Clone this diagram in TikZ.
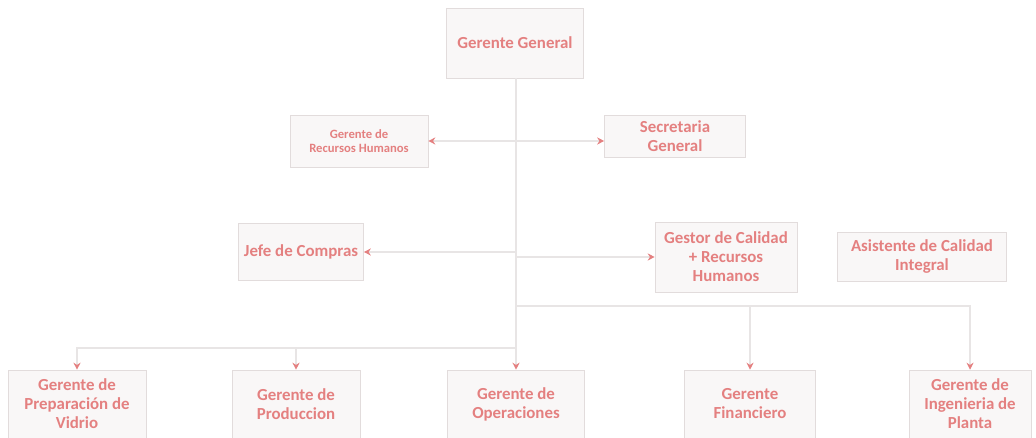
\documentclass[tikz,border=0pt]{standalone}
\usepackage{fontspec}
\setmainfont{Carlito}
\usetikzlibrary{arrows.meta}
\definecolor{rosa}{RGB}{228,128,128}
\definecolor{cajafondo}{RGB}{249,247,247}
\definecolor{cajaborde}{RGB}{226,220,220}
\definecolor{linea}{RGB}{232,229,229}
\tikzset{
  caja/.style={draw=cajaborde,fill=cajafondo,text=rosa,align=center,
    font=\fontsize{12}{13.5}\selectfont\bfseries,inner sep=2pt},
  enlace/.style={draw=linea,line width=0.8pt},
  flecha/.style={enlace,-{Stealth[length=5pt,width=5pt,color=rosa]}}
}
\begin{document}
\begin{tikzpicture}[x=0.025cm,y=-0.025cm]
                \useasboundingbox (0,0) rectangle (1036,438);
                % jerarquia
                \node[caja,minimum width=137*0.025cm,minimum height=70*0.025cm] (gg) at (515,43) {Gerente General};
                \node[caja,minimum width=138*0.025cm,minimum height=52*0.025cm,font=\fontsize{9}{10.5}\selectfont\bfseries] (rh) at (359,141) {Gerente de\\Recursos Humanos};
                \node[caja,minimum width=141*0.025cm,minimum height=42*0.025cm] (sec) at (675,136) {Secretaria\\General};
                \node[caja,minimum width=125*0.025cm,minimum height=57*0.025cm] (jefe) at (301,252) {Jefe de Compras};
                \node[caja,minimum width=142*0.025cm,minimum height=70*0.025cm] (gest) at (726,257) {Gestor de Calidad\\+ Recursos\\Humanos};
                \node[caja,minimum width=169*0.025cm,minimum height=49*0.025cm] (asis) at (922,257) {Asistente de Calidad\\Integral};
                \node[caja,minimum width=138*0.025cm,minimum height=68*0.025cm] (vid) at (77,404) {Gerente de\\Preparación de\\Vidrio};
                \node[caja,minimum width=128*0.025cm,minimum height=68*0.025cm] (prod) at (296,404) {Gerente de\\Produccion};
                \node[caja,minimum width=137*0.025cm,minimum height=68*0.025cm] (ope) at (516,404) {Gerente de\\Operaciones};
                \node[caja,minimum width=131*0.025cm,minimum height=68*0.025cm] (fin) at (750,404) {Gerente\\Financiero};
                \node[caja,minimum width=122*0.025cm,minimum height=68*0.025cm] (ing) at (970,404) {Gerente de\\Ingenieria de\\Planta};

                % puntos del tronco
                \coordinate (t1) at (516,141);
                \coordinate (t2) at (516,252);
                \coordinate (t3) at (516,306);
                \coordinate (t4) at (516,348);

                \draw[flecha] (gg.south -| t1) -- (ope.north);
                \draw[flecha] (t1) -- (rh.east);
                \draw[flecha] (t1) -- (sec.west |- t1);
                \draw[flecha] (t2) -- (jefe.east);
                \draw[flecha] (t2 |- gest.west) -- (gest.west);
                \draw[flecha] (t3) -| (fin.north);
                \draw[flecha] (t3) -| (ing.north);
                \draw[flecha] (t4) -| (vid.north);
                \draw[flecha] (t4) -| (prod.north);

                \end{tikzpicture}
\end{document}
